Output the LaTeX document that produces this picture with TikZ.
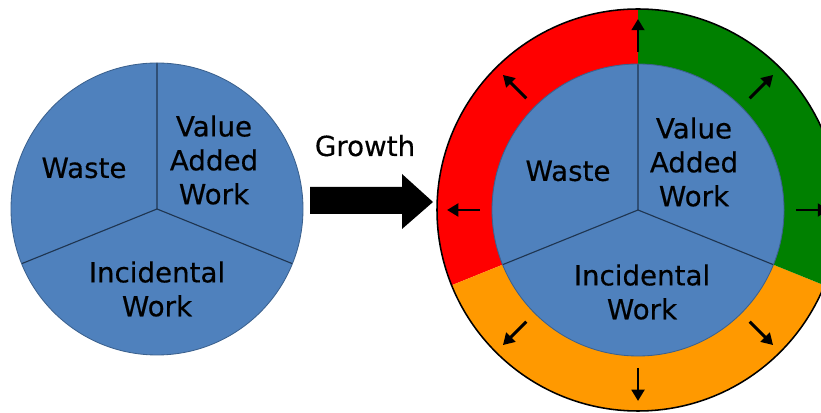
\documentclass[tikz,border=0pt]{standalone}
\usepackage{fontspec}
\setmainfont[FakeBold=0.4]{DejaVu Sans}
\usetikzlibrary{arrows.meta}
\definecolor{pieblue}{HTML}{4F81BD}
\definecolor{ringred}{HTML}{FF0000}
\definecolor{ringgreen}{HTML}{008000}
\definecolor{ringorange}{HTML}{FF9900}
\definecolor{cutline}{HTML}{1F3550}

\begin{document}
\begin{tikzpicture}[x=0.025cm, y=0.025cm,
  lbl/.style={align=center, font=\fontsize{19.7}{24.1}\selectfont, inner sep=0pt},
  cut/.style={draw=cutline, line width=0.8pt},
  rim/.style={draw=pieblue!75!black, line width=0.6pt},
  spread/.style={line width=2.1pt, -{Triangle[length=8pt,width=9pt]}}]
\useasboundingbox (0,0) rectangle (821,413);
% left pie
\coordinate (lc) at (157,204);
\fill[pieblue] (lc) circle (146);
\draw[cut] (lc) -- +(90:146) (lc) -- +(-22:146) (lc) -- +(202:146);
\draw[rim] (lc) circle (146);
\node[lbl] (lwaste) at (84,245) {Waste};
\node[lbl] (lvalue) at (214,253) {Value\\Added\\Work};
\node[lbl] (lincid) at (157,124) {Incidental\\Work};
% growth arrow
\fill (310,226) -- (402,226) -- (402,239) -- (433,211) -- (402,184)
  -- (402,199) -- (310,199) -- cycle;
\node[lbl, anchor=base] (growth) at (365,257) {Growth};
% right pie with ring
\coordinate (rc) at (638,203);
\fill[ringred] (rc) -- +(90:201) arc (90:202:201) -- cycle;
\fill[ringorange] (rc) -- +(202:201) arc (202:338:201) -- cycle;
\fill[ringgreen] (rc) -- +(-22:201) arc (-22:90:201) -- cycle;
\draw[line width=1.1pt] (rc) circle (201);
\fill[pieblue] (rc) circle (146);
\draw[cut] (rc) -- +(90:146) (rc) -- +(-22:146) (rc) -- +(202:146);
\draw[rim] (rc) circle (146);
\foreach \a in {0,45,...,315}{
  \path (rc) ++(\a:158) coordinate (in\a) (rc) ++(\a:191) coordinate (out\a);
  \draw[spread] (in\a) -- (out\a);
}
\node[lbl] (rwaste) at (568,242) {Waste};
\node[lbl] (rvalue) at (694,251) {Value\\Added\\Work};
\node[lbl] (rincid) at (642,121) {Incidental\\Work};
\end{tikzpicture}
\end{document}
